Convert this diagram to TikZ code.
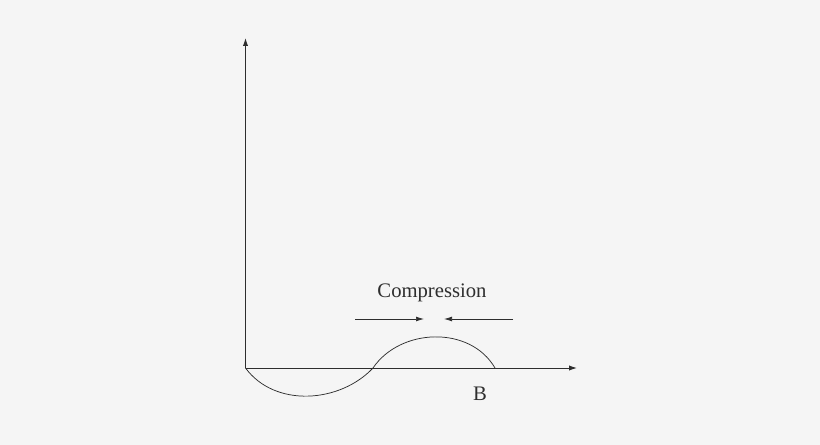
\documentclass[tikz,border=0pt]{standalone}
\usepackage{fontspec}
\setmainfont{Liberation Serif}
\usetikzlibrary{arrows.meta}
\definecolor{bg}{HTML}{F5F5F5}
\definecolor{ink}{HTML}{2E2E2E}
\tikzset{
  axis/.style={draw=ink, line width=0.75pt, -{Latex[length=6pt,width=4pt]}},
  push/.style={draw=ink, line width=0.55pt, -{Latex[length=6pt,width=3.6pt]}},
  wave/.style={draw=ink, line width=0.55pt},
  lbl/.style={text=ink, font=\fontsize{15.5}{18}\selectfont, inner sep=0pt}
}
\begin{document}
\begin{tikzpicture}[x=0.75pt,y=-0.75pt]
\fill[bg] (0,0) rectangle (820,445);
\useasboundingbox (0,0) rectangle (820,445);
\coordinate (O) at (245.5,368);
\coordinate (Ytop) at (245.5,38);
\coordinate (Xend) at (577,368);
\coordinate (Z1) at (373,368);
\coordinate (Z2) at (495,368);
\coordinate (L1) at (355,319);
\coordinate (L2) at (424,319);
\coordinate (R1) at (513,319);
\coordinate (R2) at (444,319);
\draw[axis] (O) -- (Ytop);
\draw[axis] (O) -- (Xend);
\draw[wave] (O) .. controls (275,408) and (340,403) .. (Z1)
            .. controls (400,328) and (470,325) .. (Z2);
\draw[push] (L1) -- (L2);
\draw[push] (R1) -- (R2);
\node[lbl] (comp) at (432,293) {Compression};
\node[lbl] (B) at (480,394) {B};
\end{tikzpicture}
\end{document}
